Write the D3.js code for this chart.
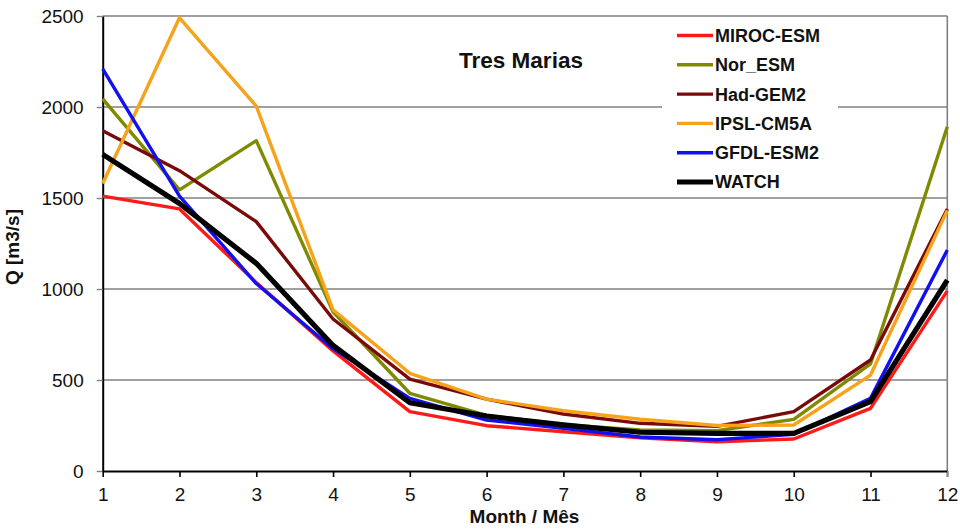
<!DOCTYPE html>
<html>
<head>
<meta charset="utf-8">
<script src="https://cdn.jsdelivr.net/npm/d3@7"></script>
<style>
  html, body { margin: 0; padding: 0; background: #fff; }
  svg { display: block; font-family: "Liberation Sans", Arial, sans-serif; }
</style>
</head>
<body>
<svg id="chart" width="960" height="530"></svg>
<script>
// Monthly mean discharge at Tres Marias, per climate model and the WATCH reference
const months = [1, 2, 3, 4, 5, 6, 7, 8, 9, 10, 11, 12];
const yTicks = [0, 500, 1000, 1500, 2000, 2500];

const seriesNames = ["MIROC-ESM", "Nor_ESM", "Had-GEM2", "IPSL-CM5A", "GFDL-ESM2", "WATCH"];
const seriesColors = ["#ff1a1a", "#808a00", "#7a0a0a", "#f7a21b", "#1010f0", "#000000"];
const seriesWidths = [3.4, 3.4, 3.4, 3.4, 3.4, 5.2];

const mirocEsm = [1510, 1440, 1035, 660, 326, 249, 216, 182, 161, 176, 344, 990];
const norEsm   = [2045, 1545, 1815, 875, 427, 305, 255, 225, 222, 284, 588, 1892];
const hadGem2  = [1870, 1650, 1370, 835, 505, 395, 313, 262, 245, 326, 610, 1440];
const ipslCm5a = [1580, 2490, 2005, 885, 537, 395, 331, 284, 250, 253, 527, 1432];
const gfdlEsm2 = [2210, 1510, 1030, 672, 399, 280, 234, 187, 172, 202, 399, 1214];
const watch    = [1740, 1470, 1141, 690, 375, 302, 253, 213, 207, 207, 381, 1049];

const seriesValues = [mirocEsm, norEsm, hadGem2, ipslCm5a, gfdlEsm2, watch];

const svg = d3.select("#chart");

const plotLeft = 102.7, plotRight = 947.3, plotTop = 16, plotBottom = 471;
const x = d3.scaleLinear().domain([1, 12]).range([plotLeft, plotRight]);
const y = d3.scaleLinear().domain([0, 2500]).range([plotBottom, plotTop]);

// horizontal gridlines
svg.append("g")
  .selectAll("line")
  .data(yTicks.filter(d => d > 0))
  .join("line")
  .attr("x1", plotLeft).attr("x2", plotRight)
  .attr("y1", d => y(d)).attr("y2", d => y(d))
  .attr("stroke", "#808080").attr("stroke-width", 1.4);

// right frame edge
svg.append("line")
  .attr("x1", plotRight).attr("x2", plotRight)
  .attr("y1", y(2500)).attr("y2", plotBottom + 6)
  .attr("stroke", "#808080").attr("stroke-width", 1.6);

// legend backdrop (interrupts the gridline behind it)
svg.append("rect")
  .attr("x", 662).attr("y", 21).attr("width", 176).attr("height", 174)
  .attr("fill", "#fff");

// axes
const yAxis = d3.axisLeft(y).tickValues(yTicks).tickSize(6).tickSizeOuter(0).tickPadding(13)
  .tickFormat(d3.format("d"));
const xAxis = d3.axisBottom(x).tickValues(months).tickSize(6).tickSizeOuter(0).tickPadding(10.5)
  .tickFormat(d3.format("d"));

const gy = svg.append("g").attr("transform", `translate(${plotLeft},0)`).call(yAxis);
const gx = svg.append("g").attr("transform", `translate(0,${plotBottom})`).call(xAxis);

[gx, gy].forEach(g => {
  g.select(".domain").attr("stroke", "#000").attr("stroke-width", 2);
  g.selectAll(".tick text").attr("font-size", 19).attr("fill", "#111")
    .attr("font-family", "'Liberation Sans', Arial, sans-serif");
});
gy.selectAll(".tick line").attr("stroke", "#808080").attr("stroke-width", 1.4);
gx.selectAll(".tick line").attr("stroke", "#000").attr("stroke-width", 1.6);
gx.selectAll(".tick").filter(d => d === 12).select("line").attr("stroke", "#808080");

// series lines
const line = d3.line().x((d, i) => x(months[i])).y(d => y(d));
svg.append("g")
  .selectAll("path")
  .data(seriesValues)
  .join("path")
  .attr("d", d => line(d))
  .attr("fill", "none")
  .attr("stroke", (d, i) => seriesColors[i])
  .attr("stroke-width", (d, i) => seriesWidths[i])
  .attr("stroke-linejoin", "round");

// title
svg.append("text")
  .attr("x", 521).attr("y", 68)
  .attr("text-anchor", "middle")
  .attr("font-size", 22.5).attr("font-weight", "bold")
  .attr("fill", "#111")
  .text("Tres Marias");

// axis titles
svg.append("text")
  .attr("x", 524.5).attr("y", 523)
  .attr("text-anchor", "middle")
  .attr("font-size", 19).attr("font-weight", "bold")
  .attr("fill", "#111")
  .text("Month / Mês");

svg.append("text")
  .attr("transform", "translate(19,247) rotate(-90)")
  .attr("text-anchor", "middle")
  .attr("font-size", 19).attr("font-weight", "bold")
  .attr("fill", "#111")
  .text("Q [m3/s]");

// legend
const legend = svg.append("g");
const rowY = i => 35.5 + i * 29.3;
legend.selectAll("line")
  .data(seriesNames)
  .join("line")
  .attr("x1", 677).attr("x2", 713)
  .attr("y1", (d, i) => rowY(i)).attr("y2", (d, i) => rowY(i))
  .attr("stroke", (d, i) => seriesColors[i])
  .attr("stroke-width", (d, i) => seriesWidths[i]);
legend.selectAll("text")
  .data(seriesNames)
  .join("text")
  .attr("x", 715).attr("y", (d, i) => rowY(i))
  .attr("dy", "0.36em")
  .attr("font-size", 18).attr("font-weight", "bold")
  .attr("fill", "#111")
  .text(d => d);
</script>
</body>
</html>
